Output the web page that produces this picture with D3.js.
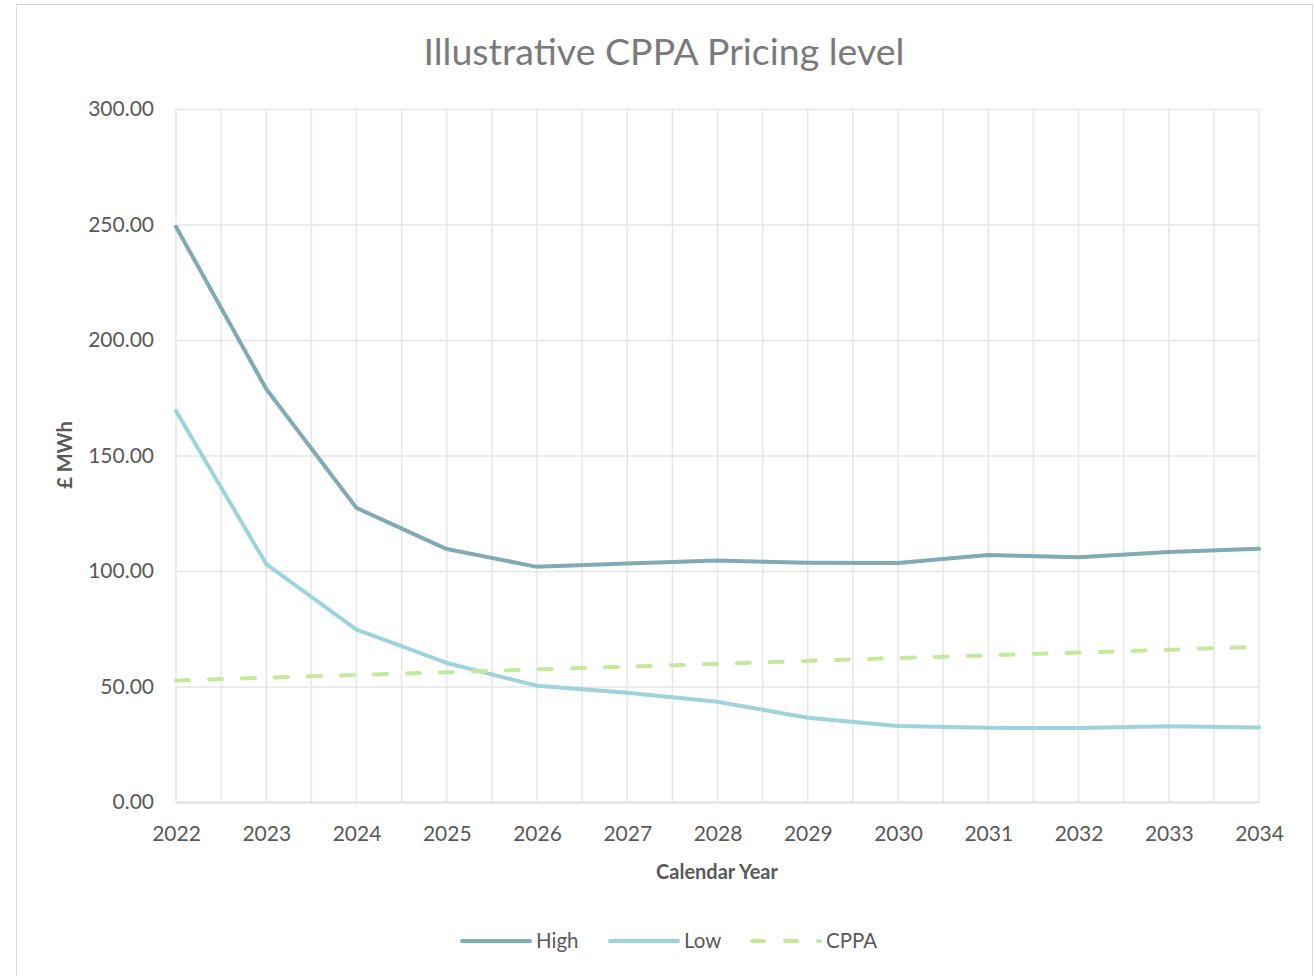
<!DOCTYPE html>
<html>
<head>
<meta charset="utf-8">
<script src="https://cdn.jsdelivr.net/npm/d3@7"></script>
<style>
  body { margin: 0; background: #fff; }
  text { font-family: Lato, "Open Sans", sans-serif; fill: #595959; }
</style>
</head>
<body>
<div id="chart"></div>
<script>
// Illustrative CPPA pricing level, £/MWh by calendar year
const years = ["2022","2023","2024","2025","2026","2027","2028","2029","2030","2031","2032","2033","2034"];
const high = [249, 178.8, 127.3, 109.5, 101.8, 103.2, 104.5, 103.6, 103.5, 106.9, 106.0, 108.2, 109.6];
const low  = [169.3, 103.0, 74.6, 60.2, 50.3, 47.3, 43.4, 36.5, 32.9, 32.1, 32.0, 32.8, 32.2];
const cppa = [52.6, 53.8, 55.0, 56.2, 57.4, 58.6, 59.8, 61.1, 62.3, 63.5, 64.7, 65.9, 67.2];
const yTicks = [0, 50, 100, 150, 200, 250, 300];

const width = 1314, height = 976,
    margin = ({ top: 109, right: 55, bottom: 174, left: 176 });

const svg = d3.select("#chart")
    .append("svg")
    .attr("width", width)
    .attr("height", height);

// chart frame
svg.append("rect")
    .attr("x", 16.5).attr("y", 4.5)
    .attr("width", 1296).attr("height", 990)
    .attr("fill", "#fff")
    .attr("stroke", "#d9d9d9");

let x = d3.scalePoint()
    .domain(years)
    .range([margin.left, width - margin.right]);

let y = d3.scaleLinear()
    .domain([0, 300])
    .range([height - margin.bottom, margin.top]);

const step = x.step();
const grid = "#e6e6e6";

// vertical gridlines at each year and mid-year
let vlines = [];
years.forEach((d, i) => {
    vlines.push(x(d));
    if (i < years.length - 1) vlines.push(x(d) + step / 2);
});
svg.append("g").selectAll("line")
    .data(vlines)
    .join("line")
    .attr("x1", d => d).attr("x2", d => d)
    .attr("y1", y(300)).attr("y2", y(0))
    .attr("stroke", grid).attr("stroke-width", 1.5);

// horizontal gridlines + y labels
svg.append("g")
    .attr("transform", `translate(${margin.left},0)`)
    .call(d3.axisLeft(y).tickValues(yTicks).tickSize(-(width - margin.left - margin.right)).tickPadding(22).tickFormat(d3.format(".2f")))
    .call(g => g.select(".domain").remove())
    .call(g => g.selectAll(".tick line").attr("stroke", grid).attr("stroke-width", 1.5))
    .call(g => g.selectAll(".tick text").attr("font-size", 21).attr("fill", "#595959"));

// x axis
svg.append("g")
    .attr("transform", `translate(0,${y(0)})`)
    .call(d3.axisBottom(x).tickSize(0).tickPadding(24))
    .call(g => g.select(".domain").attr("stroke", "#d9d9d9").attr("stroke-width", 1.5))
    .call(g => g.selectAll(".tick text").attr("font-size", 21).attr("fill", "#595959"));

// title and axis labels
svg.append("text")
    .attr("x", 664).attr("y", 65)
    .attr("text-anchor", "middle")
    .attr("font-size", 37.5)
    .style("fill", "#7a7a7a")
    .text("Illustrative CPPA Pricing level");

svg.append("text")
    .attr("x", 717).attr("y", 879)
    .attr("text-anchor", "middle")
    .attr("font-size", 20).attr("font-weight", "bold")
    .text("Calendar Year");

svg.append("text")
    .attr("transform", "translate(72,455) rotate(-90)")
    .attr("text-anchor", "middle")
    .attr("font-size", 20).attr("font-weight", "bold")
    .text("£ MWh");

const series = [
    { name: "High", values: high, color: "#80aab4", dash: null },
    { name: "Low", values: low, color: "#9dd4dc", dash: null },
    { name: "CPPA", values: cppa, color: "#c6e89b", dash: "13,20" }
];

let line = d3.line()
    .x((d, i) => x(years[i]))
    .y(d => y(d));

series.forEach(s => {
    svg.append("path")
        .datum(s.values)
        .attr("d", line)
        .attr("fill", "none")
        .attr("stroke", s.color)
        .attr("stroke-width", 4)
        .attr("stroke-linejoin", "round")
        .attr("stroke-linecap", "round")
        .attr("stroke-dasharray", s.dash);
});

// legend
const legendX = [462, 610, 752];
series.forEach((s, i) => {
    const g = svg.append("g").attr("transform", `translate(${legendX[i]},941)`);
    g.append("line")
        .attr("x1", 0).attr("x2", 68)
        .attr("stroke", s.color).attr("stroke-width", 4)
        .attr("stroke-linecap", "round")
        .attr("stroke-dasharray", s.dash ? "12,21" : null);
    g.append("text")
        .attr("x", 74).attr("dy", "0.35em")
        .attr("font-size", 20.5)
        .text(s.name);
});
</script>
</body>
</html>
